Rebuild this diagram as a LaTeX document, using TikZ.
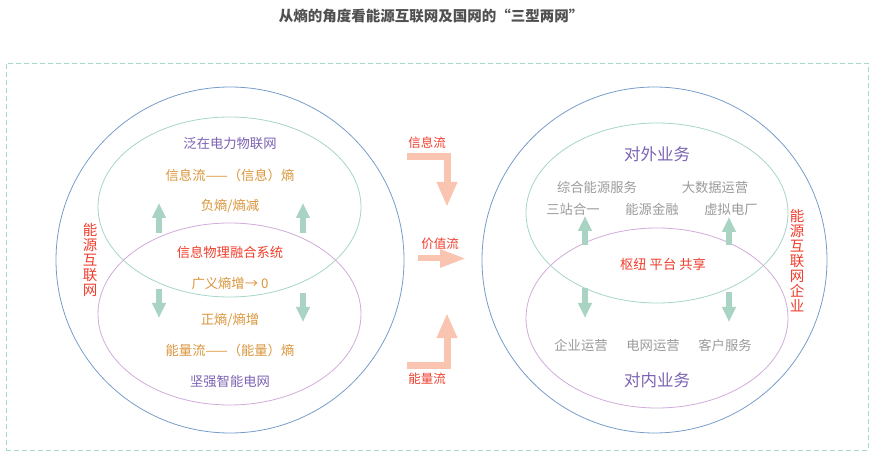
\documentclass[tikz,border=0pt]{standalone}
\usepackage{fontspec}
\setmainfont{Noto Sans CJK SC}
\usetikzlibrary{arrows.meta}
\definecolor{bluec}{HTML}{769CC9}
\definecolor{greenc}{HTML}{A6D5C6}
\definecolor{purplec}{HTML}{D0ABDB}
\definecolor{garrow}{HTML}{A9D3C3}
\definecolor{sarrow}{HTML}{F9C5B0}
\definecolor{ptext}{HTML}{7B62B2}
\definecolor{otext}{HTML}{D9953B}
\definecolor{rtext}{HTML}{EF3D2C}
\definecolor{gtext}{HTML}{9A9A9A}
\definecolor{boxc}{HTML}{A6D8CB}
\definecolor{titlec}{HTML}{505050}
\tikzset{
  txt/.style={inner sep=0pt, font=\fontsize{13.3}{15}\selectfont},
  ptxt/.style={txt, text=ptext},
  otxt/.style={txt, text=otext},
  rtxt/.style={txt, text=rtext},
  gtxt/.style={txt, text=gtext},
  bigp/.style={inner sep=0pt, text=ptext, font=\fontsize{16.5}{18}\selectfont},
  vert/.style={inner sep=0pt, text=rtext, align=center, font=\fontsize{14.5}{15}\selectfont},
  garr/.style={draw=garrow, line width=5.5pt, -{Triangle[width=13pt,length=15pt]}},
  sarr/.style={draw=sarrow, line width=7pt, line join=miter, -{Triangle[width=19pt,length=25pt]}},
  ring/.style={line width=0.8pt},
}
\begin{document}
\begin{tikzpicture}[x=1pt,y=-1pt]
\useasboundingbox (0,0) rectangle (876,457);
% title
\node[inner sep=0pt, text=titlec, font=\bfseries\fontsize{14.5}{16}\selectfont] (title) at (431,16) {从熵的角度看能源互联网及国网的“三型两网”};
% frame
\node[draw=boxc, dash pattern=on 5pt off 3pt, line width=0.8pt, minimum width=862pt, minimum height=387pt, anchor=north west, inner sep=0pt] (frame) at (6,63) {};
% left rings
\draw[ring, draw=bluec] (230,260) ellipse [x radius=174pt, y radius=173pt];
\draw[ring, draw=greenc] (229.5,207) ellipse [x radius=131.5pt, y radius=90pt];
\draw[ring, draw=purplec] (229.5,314) ellipse [x radius=131.5pt, y radius=91pt];
% right rings
\draw[ring, draw=bluec] (654.5,260) ellipse [x radius=172.5pt, y radius=173pt];
\draw[ring, draw=greenc] (657,213) ellipse [x radius=131pt, y radius=90pt];
\draw[ring, draw=purplec] (657,318) ellipse [x radius=131pt, y radius=90pt];
% left texts
\node[ptxt] (l1) at (230,144) {泛在电力物联网};
\node[otxt] (l2) at (230,175) {信息流——（信息）熵};
\node[otxt] (l3) at (230,206) {负熵/熵减};
\node[rtxt] (l4) at (230,252) {信息物理融合系统};
\node[otxt] (l5) at (230,283) {广义熵增→ 0};
\node[otxt] (l6) at (230,320) {正熵/熵增};
\node[otxt] (l7) at (230,350) {能量流——（能量）熵};
\node[ptxt] (l8) at (230,381) {坚强智能电网};
\node[vert] (lv) at (90,260) {能\\源\\互\\联\\网};
% left arrows
\coordinate (lua1) at (159,233); \coordinate (lub1) at (159,203);
\coordinate (lua2) at (303,233); \coordinate (lub2) at (303,203);
\coordinate (lda1) at (159,289); \coordinate (ldb1) at (159,318);
\coordinate (lda2) at (303,293); \coordinate (ldb2) at (303,322);
\draw[garr] (lua1) -- (lub1);
\draw[garr] (lua2) -- (lub2);
\draw[garr] (lda1) -- (ldb1);
\draw[garr] (lda2) -- (ldb2);
% right texts
\node[bigp] (r1) at (657,154) {对外业务};
\node[gtxt] (r2) at (597,187) {综合能源服务};
\node[gtxt] (r3) at (715,187) {大数据运营};
\node[gtxt] (r4) at (573,209) {三站合一};
\node[gtxt] (r5) at (652,209) {能源金融};
\node[gtxt] (r6) at (731,209) {虚拟电厂};
\node[rtxt] (r7) at (663,264) {枢纽 平台 共享};
\node[gtxt] (r8) at (581,345) {企业运营};
\node[gtxt] (r9) at (653,345) {电网运营};
\node[gtxt] (r10) at (725,345) {客户服务};
\node[bigp] (r11) at (657,380) {对内业务};
\node[vert] (rv) at (797,261) {能\\源\\互\\联\\网\\企\\业};
% right arrows
\coordinate (rua1) at (585,245); \coordinate (rub1) at (585,216);
\coordinate (rua2) at (729,245); \coordinate (rub2) at (729,217);
\coordinate (rda1) at (585,288); \coordinate (rdb1) at (585,318);
\coordinate (rda2) at (729,292); \coordinate (rdb2) at (729,322);
\draw[garr] (rua1) -- (rub1);
\draw[garr] (rua2) -- (rub2);
\draw[garr] (rda1) -- (rdb1);
\draw[garr] (rda2) -- (rdb2);
% middle
\node[rtxt, font=\fontsize{12.5}{14}\selectfont] (m1) at (427,143) {信息流};
\node[rtxt, font=\fontsize{12.5}{14}\selectfont] (m2) at (440,244) {价值流};
\node[rtxt, font=\fontsize{12.5}{14}\selectfont] (m3) at (427,379) {能量流};
\coordinate (ta) at (407,156.5); \coordinate (tb) at (447,156.5); \coordinate (tc) at (447,207);
\draw[sarr] (ta) -- (tb) -- (tc);
\coordinate (ba) at (407,365); \coordinate (bb) at (447,365); \coordinate (bc) at (447,313);
\draw[sarr] (ba) -- (bb) -- (bc);
\coordinate (ma) at (418,258.5); \coordinate (mb) at (466,258.5);
\draw[sarr, line width=6pt, -{Triangle[width=17pt,length=26pt]}] (ma) -- (mb);
\end{tikzpicture}
\end{document}
